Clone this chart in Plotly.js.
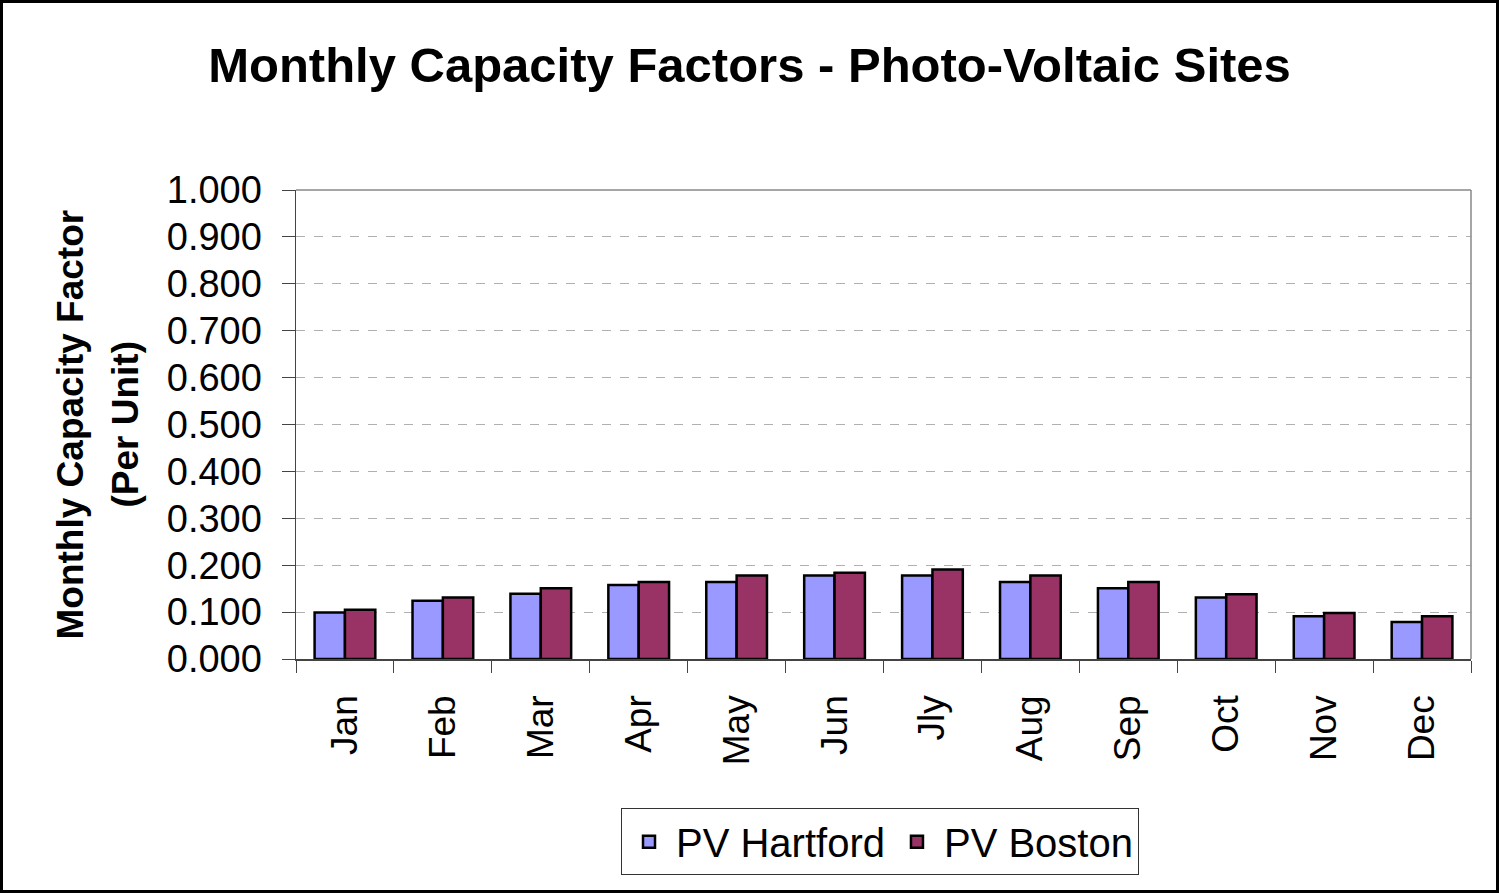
<!DOCTYPE html>
<html>
<head>
<meta charset="utf-8">
<script src="https://cdn.plot.ly/plotly-3.0.1.min.js"></script>
<style>
html,body{margin:0;padding:0;background:#fff;}
#frame{position:absolute;left:0;top:0;width:1499px;height:893px;box-sizing:border-box;border:3px solid #000;pointer-events:none;}
#chart{position:absolute;left:0;top:0;width:1499px;height:893px;}
</style>
</head>
<body>
<div id="chart"></div>
<div id="frame"></div>
<script>
const months = ["Jan","Feb","Mar","Apr","May","Jun","Jly","Aug","Sep","Oct","Nov","Dec"];
const pvHartford = [0.099,0.124,0.139,0.158,0.164,0.178,0.178,0.164,0.151,0.131,0.091,0.079];
const pvBoston   = [0.105,0.131,0.151,0.164,0.178,0.184,0.191,0.178,0.164,0.138,0.098,0.091];
const yTicks = [0,0.1,0.2,0.3,0.4,0.5,0.6,0.7,0.8,0.9,1.0];

const font = "Liberation Sans, Arial, sans-serif";
const data = [
  {type:"bar", name:"PV Hartford", x:months, y:pvHartford,
   marker:{color:"#9999FF", line:{color:"#000", width:2.5}}},
  {type:"bar", name:"PV Boston", x:months, y:pvBoston,
   marker:{color:"#993366", line:{color:"#000", width:2.5}}}
];
const layout = {
  width:1499, height:893,
  margin:{l:296, r:28, t:190, b:234},
  paper_bgcolor:"#fff", plot_bgcolor:"#fff",
  font:{family:font, color:"#000"},
  title:{text:"<b>Monthly Capacity Factors - Photo-Voltaic Sites</b>", font:{size:49, family:font},
         x:0.5, xref:"container", y:0.927, yanchor:"middle"},
  barmode:"group", bargap:0.38, bargroupgap:0,
  xaxis:{type:"category", tickangle:-90, tickfont:{size:37, family:font},
         ticks:"outside", tickson:"boundaries", ticklen:12, tickcolor:"#444", ticklabelstandoff:20,
         showline:true, linecolor:"#444", linewidth:1.5, showgrid:false, mirror:false},
  yaxis:{range:[0,1.0], tickvals:yTicks, tickformat:".3f", tickfont:{size:38, family:font},
         ticks:"outside", ticklen:13, tickcolor:"#444", ticklabelstandoff:12,
         showline:true, linecolor:"#444", linewidth:1.5,
         showgrid:true, gridcolor:"#b0b0b0", griddash:"dash", gridwidth:1, zeroline:false},
  shapes:[
    {type:"line", xref:"paper", yref:"paper", x0:0, x1:1, y0:1, y1:1, line:{color:"#888", width:1.5}},
    {type:"line", xref:"paper", yref:"paper", x0:1, x1:1, y0:0, y1:1, line:{color:"#888", width:1.5}}
  ],
  annotations:[
    {text:"<b>Monthly Capacity Factor</b>", textangle:-90, xref:"paper", yref:"paper",
     x:(70-296)/1175, y:0.5, xanchor:"center", yanchor:"middle", showarrow:false,
     font:{size:37, family:font}},
    {text:"<b>(Per Unit)</b>", textangle:-90, xref:"paper", yref:"paper",
     x:(125-296)/1175, y:0.5, xanchor:"center", yanchor:"middle", showarrow:false,
     font:{size:37, family:font}}
  ],
  legend:{orientation:"h", x:(880-296)/1175, xanchor:"center", y:-0.318, yanchor:"top",
          bordercolor:"#333", borderwidth:1, font:{size:40, family:font}, bgcolor:"#fff",
          itemwidth:44},
  showlegend:true
};
Plotly.newPlot("chart", data, layout, {displayModeBar:false, staticPlot:true});
</script>
</body>
</html>
